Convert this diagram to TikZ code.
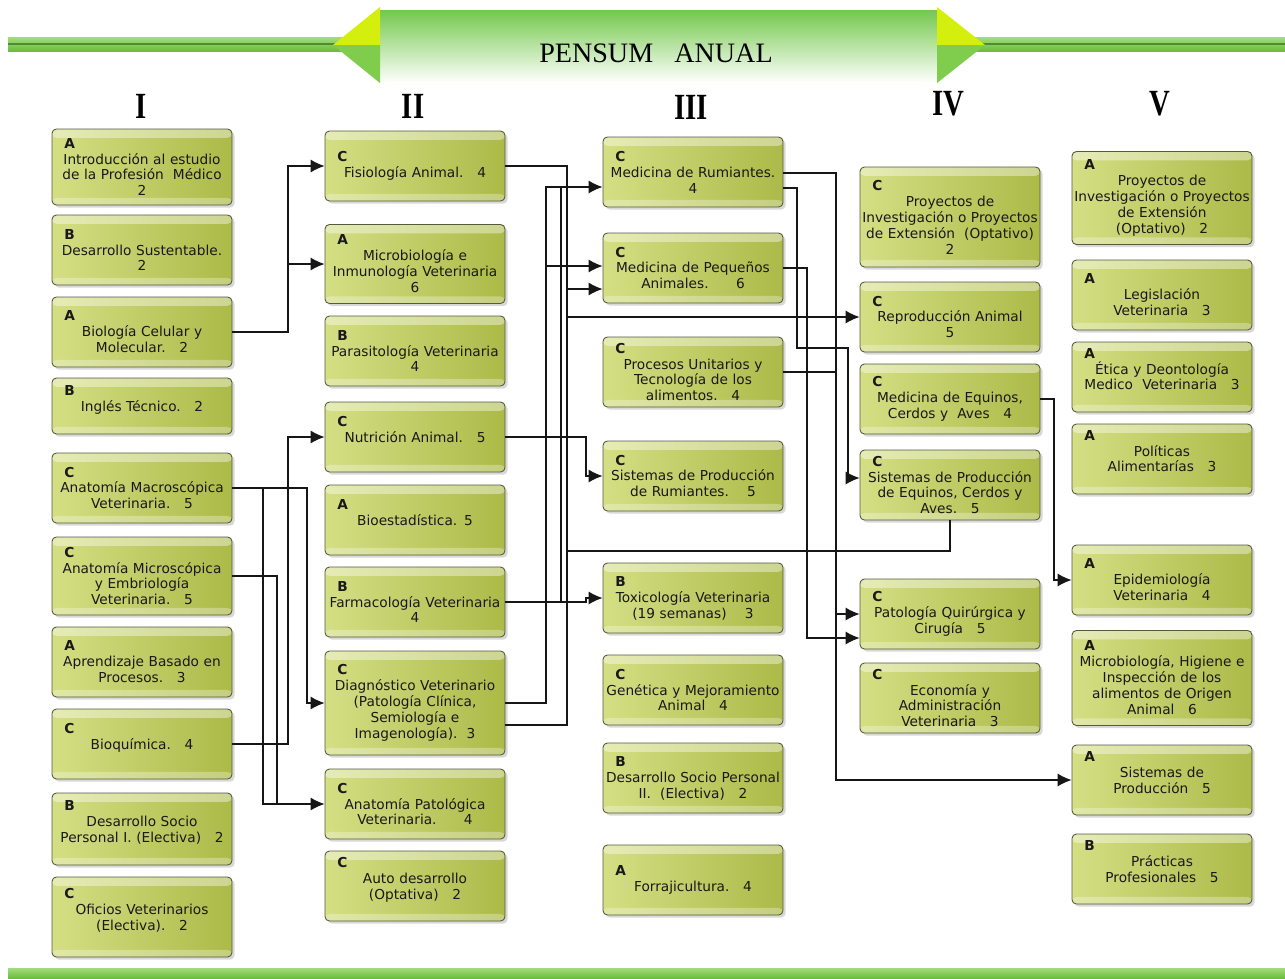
\documentclass[tikz,border=0pt]{standalone}
\usepackage{fontspec}
\setmainfont{Liberation Serif}
\newfontfamily\cajafont{DejaVu Sans}
\newfontfamily\romanofont[FakeStretch=0.78]{Liberation Serif}
\usepackage{tikz}
\usetikzlibrary{arrows.meta,shadows}

\definecolor{cajaclara}{HTML}{D4DF84}
\definecolor{cajaoscura}{HTML}{ACBA48}
\definecolor{borde}{HTML}{535B3A}
\definecolor{linea}{HTML}{161616}
\definecolor{franja}{HTML}{6CBD3E}
\definecolor{franjaclara}{HTML}{A2DC7C}
\definecolor{franjalinea}{HTML}{4F8A35}
\definecolor{amarillo}{HTML}{D4EF0E}
\definecolor{puntaverde}{HTML}{80CC4C}
\definecolor{cuerpo}{HTML}{74C84C}

\newcommand{\letra}[1]{\makebox[\linewidth][l]{\hspace{7pt}\textbf{#1}}}

\begin{document}
\begin{tikzpicture}[x=0.02cm,y=-0.02cm,line width=0.75pt,>={Latex[length=8pt,width=7.5pt]}]
  \tikzstyle{curso}=[rectangle,rounded corners=2.5pt,draw=borde,line width=0.5pt,
                     left color=cajaclara,right color=cajaoscura,
                     minimum width=3.6cm,minimum height=1.4cm,text width=3.6cm,
                     inner xsep=0pt,inner ysep=1pt,align=center,text=black!90,
                     font=\cajafont\fontsize{7.8}{9.1}\selectfont,
                     drop shadow={shadow xshift=1.5pt,shadow yshift=-1.5pt,opacity=0.3},
                     path picture={\fill[white,opacity=0.4] (path picture bounding box.north west) rectangle ([yshift=-5pt]path picture bounding box.north east);
                                   \fill[white,opacity=0.3] ([yshift=4pt]path picture bounding box.south west) rectangle (path picture bounding box.south east);}]
  \tikzstyle{romano}=[font=\romanofont\bfseries\fontsize{21}{21}\selectfont]
  \tikzstyle{titulo}=[font=\fontsize{16}{16}\selectfont]
  \tikzstyle{conector}=[draw=linea]

  \fill[white] (0,0) rectangle (1285,978);
  \useasboundingbox (0,0) rectangle (1285,978);

  \shade[top color=franjaclara,bottom color=franja] (8,37) rectangle (1285,51);
  \draw[franjalinea,line width=0.6pt] (8,44) -- (1285,44);
  \shade[top color=cuerpo,bottom color=white] (380,10) rectangle (937,83);
  \fill[amarillo] (333,45) -- (380,7) -- (380,45) -- cycle;
  \fill[puntaverde] (333,45) -- (380,45) -- (380,83) -- cycle;
  \fill[amarillo] (985,45) -- (937,7) -- (937,45) -- cycle;
  \fill[puntaverde] (985,45) -- (937,45) -- (937,83) -- cycle;
  \shade[top color=franjaclara,bottom color=franja] (8,968) rectangle (1285,978);

  \node[titulo] (pensum) at (656,53) {PENSUM~~~ANUAL};
  \node[romano] (nI)   at (141,106) {I};
  \node[romano] (nII)  at (413,106) {II};
  \node[romano] (nIII) at (691,107) {III};
  \node[romano] (nIV)  at (948,104) {IV};
  \node[romano] (nV)   at (1160,104) {V};

  \node[curso,minimum height=1.52cm] (I1) at (142,167) {\letra{A}\\Introducción al estudio\\de la Profesión~~Médico\\2};
  \node[curso]                       (I2) at (142,250) {\letra{B}\\Desarrollo Sustentable.\\2};
  \node[curso]                       (I3) at (142,332) {\letra{A}\\Biología Celular y\\Molecular.~~~2};
  \node[curso,minimum height=1.12cm] (I4) at (142,406) {\letra{B}\\Inglés Técnico.~~~2\\\mbox{}};
  \node[curso]                       (I5) at (142,488) {\letra{C}\\Anatomía Macroscópica\\Veterinaria.~~~5};
  \node[curso,minimum height=1.56cm] (I6) at (142,576) {\letra{C}\\Anatomía Microscópica\\y Embriología\\Veterinaria.~~~5};
  \node[curso]                       (I7) at (142,662) {\letra{A}\\Aprendizaje Basado en\\Procesos.~~~3};
  \node[curso]                       (I8) at (142,744) {\letra{C}\\Bioquímica.~~~4\\\mbox{}};
  \node[curso,minimum height=1.44cm] (I9) at (142,829) {\letra{B}\\Desarrollo Socio\\Personal I. (Electiva)~~~2\\\mbox{}};
  \node[curso,minimum height=1.6cm]  (I10) at (142,917) {\letra{C}\\Oficios Veterinarios\\(Electiva).~~~2\\\mbox{}};

  \node[curso]                       (II1) at (415,166) {\letra{C}\\Fisiología Animal.~~~4};
  \node[curso,minimum height=1.58cm] (II2) at (415,264) {\letra{A}\\Microbiología e\\Inmunología Veterinaria\\6};
  \node[curso]                       (II3) at (415,351) {\letra{B}\\Parasitología Veterinaria\\4};
  \node[curso]                       (II4) at (415,437) {\letra{C}\\Nutrición Animal.~~~5\\\mbox{}};
  \node[curso]                       (II5) at (415,520) {\letra{A}\\Bioestadística. 5\\\mbox{}};
  \node[curso]                       (II6) at (415,602) {\letra{B}\\Farmacología Veterinaria\\4};
  \node[curso,minimum height=2.08cm] (II7) at (415,703) {\letra{C}\\Diagnóstico Veterinario\\(Patología Clínica,\\Semiología e\\Imagenología).~~3};
  \node[curso]                       (II8) at (415,804) {\letra{C}\\Anatomía Patológica\\Veterinaria.~~~~~~4};
  \node[curso]                       (II9) at (415,886) {\letra{C}\\Auto desarrollo\\(Optativa)~~~2\\\mbox{}};

  \node[curso] (III1) at (693,172) {\letra{C}\\Medicina de Rumiantes.\\4};
  \node[curso] (III2) at (693,268) {\letra{C}\\Medicina de Pequeños\\Animales.~~~~~~6};
  \node[curso] (III3) at (693,372) {\letra{C}\\Procesos Unitarios y\\Tecnología de los\\alimentos.~~~4};
  \node[curso] (III4) at (693,476) {\letra{C}\\Sistemas de Producción\\de Rumiantes.~~~~5};
  \node[curso] (III5) at (693,598) {\letra{B}\\Toxicología Veterinaria\\(19 semanas)~~~~3};
  \node[curso] (III6) at (693,690) {\letra{C}\\Genética y Mejoramiento\\Animal~~~4};
  \node[curso] (III7) at (693,778) {\letra{B}\\Desarrollo Socio Personal\\II.~~(Electiva)~~~2};
  \node[curso] (III8) at (693,880) {\letra{A}\\Forrajicultura.~~~4};

  \node[curso,minimum height=2cm] (IV1) at (950,217) {\letra{C}\\Proyectos de\\Investigación o Proyectos\\de Extensión~~(Optativo)\\2};
  \node[curso]                    (IV2) at (950,317) {\letra{C}\\Reproducción Animal\\5};
  \node[curso]                    (IV3) at (950,399) {\letra{C}\\Medicina de Equinos,\\Cerdos y~~Aves~~~4};
  \node[curso]                    (IV4) at (950,485) {\letra{C}\\Sistemas de Producción\\de Equinos, Cerdos y\\Aves.~~~5};
  \node[curso]                    (IV5) at (950,614) {\letra{C}\\Patología Quirúrgica y\\Cirugía~~~5};
  \node[curso]                    (IV6) at (950,698) {\letra{C}\\Economía y\\Administración\\Veterinaria~~~3};

  \node[curso,minimum height=1.86cm] (V1) at (1162,198) {\letra{A}\\Proyectos de\\Investigación o Proyectos\\de Extensión\\(Optativo)~~~2};
  \node[curso]                       (V2) at (1162,295) {\letra{A}\\Legislación\\Veterinaria~~~3};
  \node[curso]                       (V3) at (1162,377) {\letra{A}\\Ética y Deontología\\Medico~~Veterinaria~~~3\\\mbox{}};
  \node[curso]                       (V4) at (1162,459) {\letra{A}\\Políticas\\Alimentarías~~~3\\\mbox{}};
  \node[curso]                       (V5) at (1162,580) {\letra{A}\\Epidemiología\\Veterinaria~~~4};
  \node[curso,minimum height=1.9cm]  (V6) at (1162,678) {\letra{A}\\Microbiología, Higiene e\\Inspección de los\\alimentos de Origen\\Animal~~~6};
  \node[curso]                       (V7) at (1162,780) {\letra{A}\\Sistemas de\\Producción~~~5\\\mbox{}};
  \node[curso]                       (V8) at (1162,869) {\letra{B}\\Prácticas\\Profesionales~~~5\\\mbox{}};

  \coordinate (bA) at (263,0);
  \coordinate (bB) at (277,0);
  \coordinate (bC) at (288,0);
  \coordinate (bD) at (307,0);
  \coordinate (bE) at (546,0);
  \coordinate (bF) at (561,0);
  \coordinate (bG) at (567,0);
  \coordinate (bH) at (586,0);
  \coordinate (bI) at (797,0);
  \coordinate (bK) at (807,0);
  \coordinate (bL) at (836,0);
  \coordinate (bJ) at (848,0);
  \coordinate (bM) at (1054,0);

  \draw[conector,->] (I3.east) -| (bC |- II1.west) -- (II1.west);
  \draw[conector,->] (bC |- II2.west) -- (II2.west);
  \draw[conector,->] (I8.east) -| (bC |- II4.west) -- (II4.west);
  \draw[conector,->] (I5.east) -| (bD |- II7.west) -- (II7.west);
  \draw[conector,->] (bA |- I5.east) |- (II8.west);
  \draw[conector]    (I6.east) -| (bB |- II8.west);

  \draw[conector,->] (II4.east) -| (bH |- III4.west) -- (III4.west);
  \draw[conector,->] (II6.east) -| (bH |- III5.west) -- (III5.west);
  \draw[conector]    (II6.east) -| (bF |- 0,187);
  \draw[conector,->] (II7.east) -| (bE |- 0,187) -- (III1.west |- 0,187);
  \draw[conector,->] (bE |- 0,266) -- (III2.west |- 0,266);
  \draw[conector]    (II1.east) -| (bG |- 0,725) -- (II7.east |- 0,725);
  \draw[conector,->] (bG |- 0,289) -- (III2.west |- 0,289);
  \draw[conector,->] (bG |- IV2.west) -- (IV2.west);
  \draw[conector]    (IV4.south) |- (bG |- 0,551);

  \draw[conector,->] (III1.east |- 0,173) -| (bL |- V7.west) -- (V7.west);
  \draw[conector]    (III3.east) -- (bL |- III3.east);
  \draw[conector,->] (bL |- IV5.west) -- (IV5.west);
  \draw[conector,->] (III1.east |- 0,188) -| (bI |- 0,348) -| (bJ |- 0,478) -- (IV4.west |- 0,478);
  \draw[conector,->] (III2.east) -| (bK |- 0,638) -- (IV5.west |- 0,638);
  \draw[conector,->] (IV3.east) -| (bM |- V5.west) -- (V5.west);
\end{tikzpicture}
\end{document}
